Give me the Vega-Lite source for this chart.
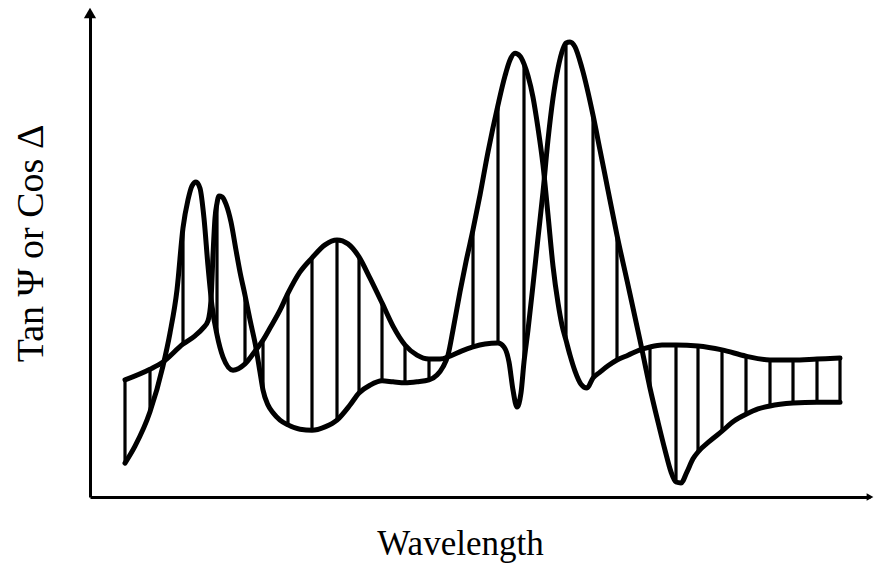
{
  "$schema": "https://vega.github.io/schema/vega-lite/v6.json",
  "width": 780,
  "height": 484,
  "autosize": {"type": "none"},
  "padding": {"left": 90, "top": 13, "right": 8, "bottom": 70},
  "background": "white",
  "config": {"view": {"stroke": null}},
  "datasets": {
    "curves": [
      {"series": "tan", "nm": 235, "v": 24.2}, {"series": "tan", "nm": 260, "v": 26.4}, {"series": "tan", "nm": 273, "v": 27.9},
      {"series": "tan", "nm": 293, "v": 31.6}, {"series": "tan", "nm": 305, "v": 33.3}, {"series": "tan", "nm": 313, "v": 34.9},
      {"series": "tan", "nm": 318, "v": 36.4}, {"series": "tan", "nm": 321, "v": 40.7}, {"series": "tan", "nm": 323, "v": 50.0},
      {"series": "tan", "nm": 325, "v": 57.6}, {"series": "tan", "nm": 327, "v": 60.7}, {"series": "tan", "nm": 329, "v": 62.2},
      {"series": "tan", "nm": 332, "v": 62.0}, {"series": "tan", "nm": 336, "v": 60.5}, {"series": "tan", "nm": 341, "v": 56.8},
      {"series": "tan", "nm": 346, "v": 51.0}, {"series": "tan", "nm": 350, "v": 46.5}, {"series": "tan", "nm": 355, "v": 41.7},
      {"series": "tan", "nm": 360, "v": 36.6}, {"series": "tan", "nm": 366, "v": 30.8}, {"series": "tan", "nm": 370, "v": 25.8},
      {"series": "tan", "nm": 373, "v": 22.1}, {"series": "tan", "nm": 378, "v": 19.0}, {"series": "tan", "nm": 383, "v": 17.4},
      {"series": "tan", "nm": 390, "v": 15.9}, {"series": "tan", "nm": 398, "v": 14.9}, {"series": "tan", "nm": 410, "v": 14.0},
      {"series": "tan", "nm": 422, "v": 13.8}, {"series": "tan", "nm": 435, "v": 14.5}, {"series": "tan", "nm": 447, "v": 15.9},
      {"series": "tan", "nm": 460, "v": 19.0}, {"series": "tan", "nm": 469, "v": 21.5}, {"series": "tan", "nm": 480, "v": 23.1},
      {"series": "tan", "nm": 492, "v": 24.0}, {"series": "tan", "nm": 503, "v": 23.8}, {"series": "tan", "nm": 515, "v": 23.6},
      {"series": "tan", "nm": 527, "v": 23.8}, {"series": "tan", "nm": 539, "v": 24.2}, {"series": "tan", "nm": 547, "v": 25.2},
      {"series": "tan", "nm": 553, "v": 26.9}, {"series": "tan", "nm": 558, "v": 29.3}, {"series": "tan", "nm": 563, "v": 34.5},
      {"series": "tan", "nm": 570, "v": 42.4}, {"series": "tan", "nm": 576, "v": 48.6}, {"series": "tan", "nm": 583, "v": 55.2},
      {"series": "tan", "nm": 590, "v": 62.4}, {"series": "tan", "nm": 598, "v": 71.3}, {"series": "tan", "nm": 608, "v": 81.0},
      {"series": "tan", "nm": 615, "v": 87.0}, {"series": "tan", "nm": 620, "v": 90.3}, {"series": "tan", "nm": 625, "v": 91.7},
      {"series": "tan", "nm": 630, "v": 91.1}, {"series": "tan", "nm": 634, "v": 89.5}, {"series": "tan", "nm": 638, "v": 87.0},
      {"series": "tan", "nm": 643, "v": 82.6}, {"series": "tan", "nm": 648, "v": 76.2}, {"series": "tan", "nm": 653, "v": 68.6},
      {"series": "tan", "nm": 658, "v": 58.3}, {"series": "tan", "nm": 663, "v": 47.7}, {"series": "tan", "nm": 668, "v": 40.1},
      {"series": "tan", "nm": 672, "v": 35.5}, {"series": "tan", "nm": 676, "v": 32.4}, {"series": "tan", "nm": 680, "v": 29.3},
      {"series": "tan", "nm": 685, "v": 26.0}, {"series": "tan", "nm": 691, "v": 23.3}, {"series": "tan", "nm": 697, "v": 22.5},
      {"series": "tan", "nm": 703, "v": 24.6}, {"series": "tan", "nm": 710, "v": 25.8}, {"series": "tan", "nm": 718, "v": 27.1},
      {"series": "tan", "nm": 727, "v": 28.3}, {"series": "tan", "nm": 738, "v": 29.3}, {"series": "tan", "nm": 750, "v": 30.4},
      {"series": "tan", "nm": 760, "v": 31.0}, {"series": "tan", "nm": 772, "v": 31.4}, {"series": "tan", "nm": 786, "v": 31.4},
      {"series": "tan", "nm": 808, "v": 31.2}, {"series": "tan", "nm": 832, "v": 30.4}, {"series": "tan", "nm": 856, "v": 29.1},
      {"series": "tan", "nm": 880, "v": 28.3}, {"series": "tan", "nm": 903, "v": 28.3}, {"series": "tan", "nm": 927, "v": 28.5},
      {"series": "tan", "nm": 950, "v": 28.7},

      {"series": "cos", "nm": 235, "v": 7.0}, {"series": "cos", "nm": 245, "v": 10.5}, {"series": "cos", "nm": 260, "v": 17.6},
      {"series": "cos", "nm": 273, "v": 27.1}, {"series": "cos", "nm": 280, "v": 33.9}, {"series": "cos", "nm": 287, "v": 42.8},
      {"series": "cos", "nm": 293, "v": 55.6}, {"series": "cos", "nm": 298, "v": 61.4}, {"series": "cos", "nm": 302, "v": 64.3},
      {"series": "cos", "nm": 306, "v": 65.1}, {"series": "cos", "nm": 310, "v": 63.8}, {"series": "cos", "nm": 314, "v": 57.6},
      {"series": "cos", "nm": 318, "v": 47.7}, {"series": "cos", "nm": 322, "v": 39.5}, {"series": "cos", "nm": 327, "v": 33.5},
      {"series": "cos", "nm": 333, "v": 28.9}, {"series": "cos", "nm": 343, "v": 26.2}, {"series": "cos", "nm": 355, "v": 27.5},
      {"series": "cos", "nm": 366, "v": 30.4}, {"series": "cos", "nm": 373, "v": 32.4}, {"series": "cos", "nm": 380, "v": 34.9},
      {"series": "cos", "nm": 390, "v": 38.6}, {"series": "cos", "nm": 398, "v": 42.1}, {"series": "cos", "nm": 410, "v": 46.5},
      {"series": "cos", "nm": 422, "v": 49.4}, {"series": "cos", "nm": 435, "v": 52.1}, {"series": "cos", "nm": 447, "v": 53.1},
      {"series": "cos", "nm": 458, "v": 52.3}, {"series": "cos", "nm": 469, "v": 49.6}, {"series": "cos", "nm": 480, "v": 45.2},
      {"series": "cos", "nm": 492, "v": 40.1}, {"series": "cos", "nm": 503, "v": 35.3}, {"series": "cos", "nm": 515, "v": 31.4},
      {"series": "cos", "nm": 527, "v": 29.3}, {"series": "cos", "nm": 539, "v": 28.5}, {"series": "cos", "nm": 550, "v": 28.5},
      {"series": "cos", "nm": 560, "v": 29.1}, {"series": "cos", "nm": 572, "v": 30.2}, {"series": "cos", "nm": 583, "v": 31.0},
      {"series": "cos", "nm": 595, "v": 31.6}, {"series": "cos", "nm": 608, "v": 31.8}, {"series": "cos", "nm": 614, "v": 31.0},
      {"series": "cos", "nm": 619, "v": 27.9}, {"series": "cos", "nm": 623, "v": 22.1}, {"series": "cos", "nm": 627, "v": 18.6},
      {"series": "cos", "nm": 631, "v": 21.5}, {"series": "cos", "nm": 634, "v": 27.9}, {"series": "cos", "nm": 638, "v": 34.5},
      {"series": "cos", "nm": 643, "v": 43.8}, {"series": "cos", "nm": 648, "v": 53.5}, {"series": "cos", "nm": 653, "v": 63.0},
      {"series": "cos", "nm": 658, "v": 73.8}, {"series": "cos", "nm": 663, "v": 82.4}, {"series": "cos", "nm": 668, "v": 88.6},
      {"series": "cos", "nm": 673, "v": 92.6}, {"series": "cos", "nm": 676, "v": 93.8}, {"series": "cos", "nm": 680, "v": 94.0},
      {"series": "cos", "nm": 685, "v": 93.0}, {"series": "cos", "nm": 692, "v": 88.6}, {"series": "cos", "nm": 703, "v": 78.9},
      {"series": "cos", "nm": 710, "v": 71.7}, {"series": "cos", "nm": 718, "v": 63.4}, {"series": "cos", "nm": 727, "v": 54.1},
      {"series": "cos", "nm": 738, "v": 43.8}, {"series": "cos", "nm": 750, "v": 32.4}, {"series": "cos", "nm": 760, "v": 22.5},
      {"series": "cos", "nm": 768, "v": 15.5}, {"series": "cos", "nm": 775, "v": 9.7}, {"series": "cos", "nm": 781, "v": 5.2},
      {"series": "cos", "nm": 786, "v": 3.1}, {"series": "cos", "nm": 791, "v": 2.9}, {"series": "cos", "nm": 797, "v": 5.2},
      {"series": "cos", "nm": 803, "v": 7.9}, {"series": "cos", "nm": 808, "v": 9.3}, {"series": "cos", "nm": 820, "v": 11.6},
      {"series": "cos", "nm": 832, "v": 13.6}, {"series": "cos", "nm": 844, "v": 15.7}, {"series": "cos", "nm": 856, "v": 17.1},
      {"series": "cos", "nm": 868, "v": 18.2}, {"series": "cos", "nm": 880, "v": 18.8}, {"series": "cos", "nm": 903, "v": 19.4},
      {"series": "cos", "nm": 927, "v": 19.6}, {"series": "cos", "nm": 950, "v": 19.6}
    ],
    "hatch": [
      {"nm": 235, "v": 24.2, "v2": 7.0}, {"nm": 260, "v": 26.4, "v2": 17.6}, {"nm": 293, "v": 31.6, "v2": 55.6},
      {"nm": 327, "v": 60.7, "v2": 33.5}, {"nm": 355, "v": 41.7, "v2": 27.5}, {"nm": 373, "v": 22.1, "v2": 32.4},
      {"nm": 398, "v": 14.9, "v2": 42.1}, {"nm": 422, "v": 13.8, "v2": 49.4}, {"nm": 447, "v": 15.9, "v2": 53.1},
      {"nm": 469, "v": 21.5, "v2": 49.6}, {"nm": 492, "v": 24.0, "v2": 40.1}, {"nm": 515, "v": 23.6, "v2": 31.4},
      {"nm": 539, "v": 24.2, "v2": 28.5}, {"nm": 583, "v": 55.2, "v2": 31.0}, {"nm": 608, "v": 81.0, "v2": 31.8},
      {"nm": 634, "v": 89.5, "v2": 27.9}, {"nm": 676, "v": 32.4, "v2": 93.8}, {"nm": 703, "v": 24.6, "v2": 78.9},
      {"nm": 727, "v": 28.3, "v2": 54.1}, {"nm": 760, "v": 31.0, "v2": 22.5}, {"nm": 786, "v": 31.4, "v2": 3.1},
      {"nm": 808, "v": 31.2, "v2": 9.3}, {"nm": 832, "v": 30.4, "v2": 13.6}, {"nm": 856, "v": 29.1, "v2": 17.1},
      {"nm": 880, "v": 28.3, "v2": 18.8}, {"nm": 903, "v": 28.3, "v2": 19.4}, {"nm": 927, "v": 28.5, "v2": 19.6},
      {"nm": 950, "v": 28.7, "v2": 19.6}
    ],
    "arrows": [
      {"nm": 200, "v": 100, "dir": "up"},
      {"nm": 980, "v": 0, "dir": "right"}
    ]
  },
  "encoding": {
    "x": {
      "field": "nm", "type": "quantitative",
      "scale": {"domain": [200, 980], "nice": false, "zero": false},
      "axis": {
        "title": "Wavelength", "ticks": false, "labels": false, "grid": false,
        "domainColor": "black", "domainWidth": 3,
        "titleFont": "Liberation Serif", "titleFontSize": 35, "titleFontWeight": "normal", "titleColor": "black",
        "titleX": 370, "titleY": 57, "titleAlign": "center", "titleBaseline": "alphabetic"
      }
    },
    "y": {
      "field": "v", "type": "quantitative",
      "scale": {"domain": [0, 100], "nice": false},
      "axis": {
        "title": "Tan Ψ or Cos Δ", "ticks": false, "labels": false, "grid": false,
        "domainColor": "black", "domainWidth": 3,
        "titleFont": "Liberation Serif", "titleFontSize": 38, "titleFontWeight": "normal", "titleColor": "black",
        "titleAngle": 270, "titleX": -48, "titleY": 230, "titleAlign": "center", "titleBaseline": "alphabetic"
      }
    }
  },
  "layer": [
    {
      "data": {"name": "hatch"},
      "mark": {"type": "rule", "color": "black", "strokeWidth": 3.2},
      "encoding": {"y2": {"field": "v2"}}
    },
    {
      "data": {"name": "curves"},
      "mark": {"type": "line", "interpolate": "monotone", "color": "black", "strokeWidth": 5, "strokeCap": "round", "strokeJoin": "round"},
      "encoding": {"detail": {"field": "series", "type": "nominal"}}
    },
    {
      "data": {"name": "arrows"},
      "transform": [{"filter": "datum.dir === 'up'"}],
      "mark": {"type": "point", "shape": "triangle-up", "filled": true, "color": "black", "opacity": 1, "size": 150}
    },
    {
      "data": {"name": "arrows"},
      "transform": [{"filter": "datum.dir === 'right'"}],
      "mark": {"type": "point", "shape": "triangle-right", "filled": true, "color": "black", "opacity": 1, "size": 60}
    }
  ]
}
